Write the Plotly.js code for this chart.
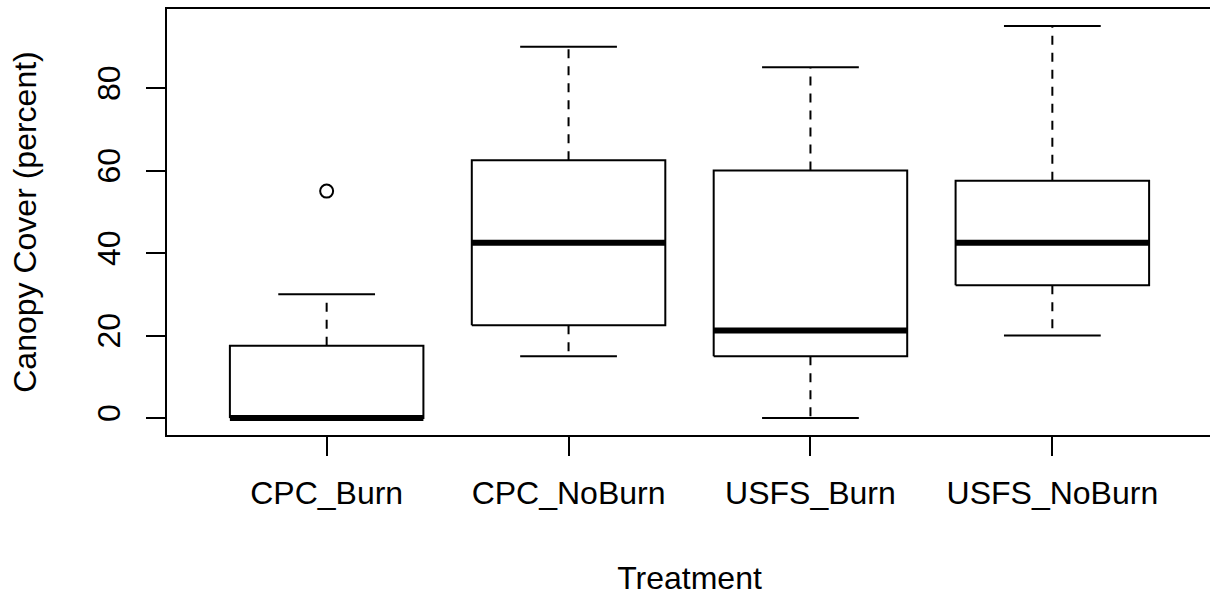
<!DOCTYPE html>
<html>
<head>
<meta charset="utf-8">
<script src="https://cdn.plot.ly/plotly-3.0.1.min.js"></script>
<style>
html,body{margin:0;padding:0;overflow:hidden;background:#fff;}
#chart{width:1214px;height:596px;}
</style>
</head>
<body>
<div id="chart"></div>
<script>
// Data
const categories = ["CPC_Burn", "CPC_NoBurn", "USFS_Burn", "USFS_NoBurn"];
const lowerWhisker = [0, 15, 0, 20];
const q1Values = [0, 22.5, 15, 32.2];
const medianValues = [0, 42.5, 21.2, 42.5];
const q3Values = [17.5, 62.5, 60, 57.5];
const upperWhisker = [30, 90, 85, 95];
const outlierCategory = ["CPC_Burn"];
const outlierValues = [55];
const yTicks = [0, 20, 40, 60, 80];

const BOXW = 0.4, CAPW = 0.2;
const pos = categories.map((c, i) => i + 1);

const boxX = [], boxY = [], medX = [], medY = [], whX = [], whY = [], capX = [], capY = [];
categories.forEach((c, i) => {
  const x = pos[i];
  boxX.push(x - BOXW, x + BOXW, x + BOXW, x - BOXW, x - BOXW, null);
  boxY.push(q1Values[i], q1Values[i], q3Values[i], q3Values[i], q1Values[i], null);
  medX.push(x - BOXW, x + BOXW, null);
  medY.push(medianValues[i], medianValues[i], null);
  whX.push(x, x, null, x, x, null);
  whY.push(q3Values[i], upperWhisker[i], null, q1Values[i], lowerWhisker[i], null);
  capX.push(x - CAPW, x + CAPW, null, x - CAPW, x + CAPW, null);
  capY.push(upperWhisker[i], upperWhisker[i], null, lowerWhisker[i], lowerWhisker[i], null);
});
const outX = outlierCategory.map(c => pos[categories.indexOf(c)]);

const traces = [
  {x: whX, y: whY, mode: 'lines', line: {color: '#000', width: 2, dash: '9px,8px'}, hoverinfo: 'skip'},
  {x: capX, y: capY, mode: 'lines', line: {color: '#000', width: 2}, hoverinfo: 'skip'},
  {x: boxX, y: boxY, mode: 'lines', fill: 'none', line: {color: '#000', width: 2}, hoverinfo: 'skip'},
  {x: medX, y: medY, mode: 'lines', line: {color: '#000', width: 6}, hoverinfo: 'skip'},
  {x: outX, y: outlierValues, mode: 'markers', marker: {symbol: 'circle-open', size: 13, color: '#000', line: {width: 2, color: '#000'}}, hoverinfo: 'skip'}
];

const font = {family: '"Liberation Sans", Arial, sans-serif', size: 32, color: '#000'};

const layout = {
  width: 1214, height: 596,
  margin: {l: 167, r: 2, t: 9, b: 161},
  paper_bgcolor: '#fff', plot_bgcolor: '#fff',
  showlegend: false,
  font: font,
  xaxis: {
    range: [0.34, 4.66],
    tickmode: 'array', tickvals: pos, ticktext: categories,
    ticks: 'outside', ticklen: 19, tickwidth: 2, tickcolor: '#000',
    showline: true, linewidth: 2, linecolor: '#000', mirror: true,
    showgrid: false, zeroline: false,
    tickfont: font, ticklabelstandoff: 10,
    title: {text: 'Treatment', font: font, standoff: 60}
  },
  yaxis: {
    range: [-4.12, 99.15],
    tickmode: 'array', tickvals: yTicks, ticktext: yTicks.map(String),
    ticks: 'outside', ticklen: 19, tickwidth: 2, tickcolor: '#000',
    showline: true, linewidth: 2, linecolor: '#000', mirror: true,
    showgrid: false, zeroline: false,
    tickangle: -90,
    tickfont: font, ticklabelstandoff: 13,
    title: {text: 'Canopy Cover (percent)', font: font, standoff: 45}
  }
};

Plotly.newPlot('chart', traces, layout, {displayModeBar: false, staticPlot: true});
</script>
</body>
</html>
